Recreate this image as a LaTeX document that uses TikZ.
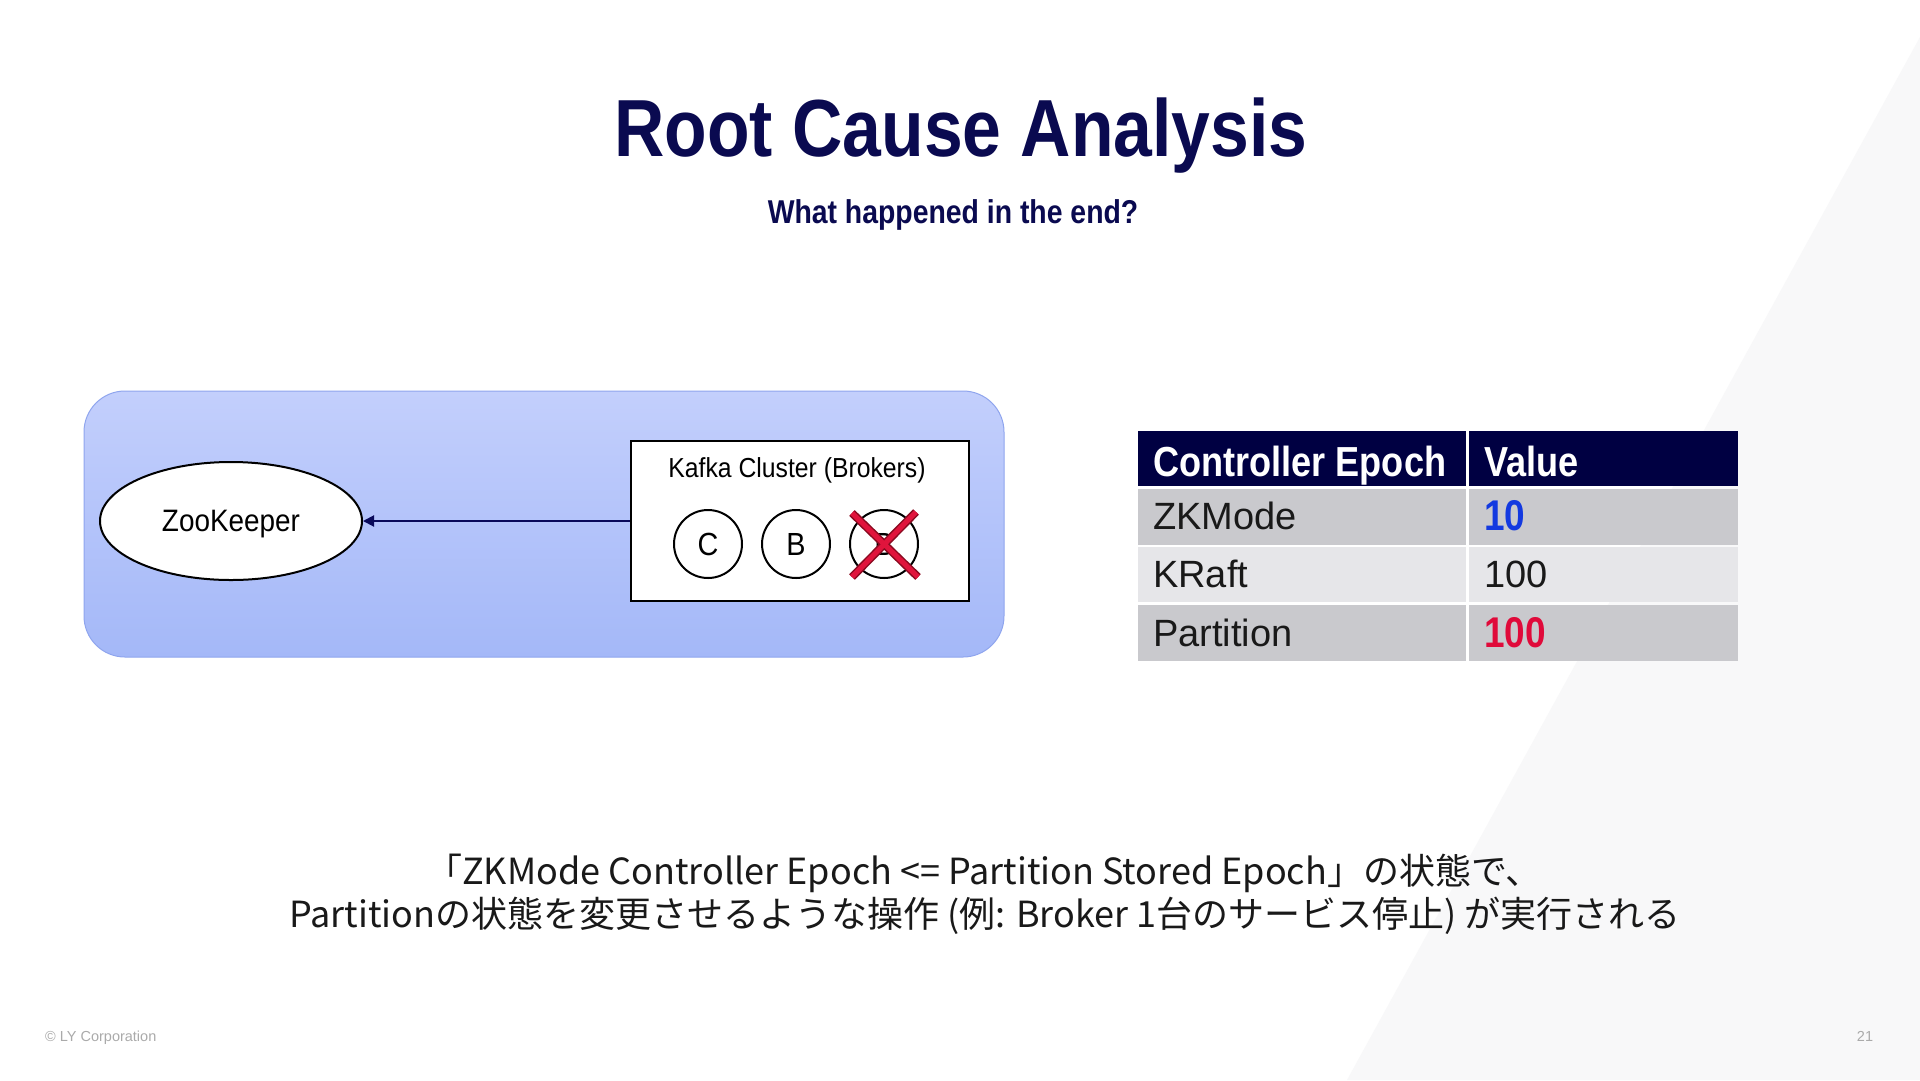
\documentclass[tikz,border=0pt]{standalone}
\usepackage{fontspec}
\setmainfont{Liberation Sans}
\newfontfamily\titlef[FakeStretch=0.86]{Liberation Sans}
\newfontfamily\narrowf[FakeStretch=0.9]{Liberation Sans}
\newfontfamily\cjkf{Noto Sans CJK JP}
\usetikzlibrary{shapes.geometric,arrows.meta}
\definecolor{navy}{HTML}{0A0A50}
\definecolor{hdr}{HTML}{000042}
\definecolor{rowdark}{HTML}{C9C9CD}
\definecolor{rowlight}{HTML}{E6E6E9}
\definecolor{valblue}{HTML}{1339E0}
\definecolor{valred}{HTML}{E00A3A}
\definecolor{paneltop}{HTML}{C3CFFC}
\definecolor{panelbot}{HTML}{A4B8F8}
\definecolor{panelline}{HTML}{8FA5EE}
\definecolor{bgtri}{HTML}{F8F8F9}
\definecolor{footgray}{HTML}{AAAAAA}
\definecolor{xred}{HTML}{E0143C}
\definecolor{xdark}{HTML}{8A0A20}
\definecolor{arrownavy}{HTML}{0A0A5A}
\tikzset{
  txt/.style={inner sep=0pt, anchor=base},
  txtw/.style={inner sep=0pt, anchor=base west},
  cell/.style={rectangle, inner sep=0pt, anchor=north west, minimum height=#1},
  hdrtext/.style={txtw, text=white, font=\titlef\bfseries\fontsize{42}{50}\selectfont},
  rowtext/.style={txtw, text=black!90, font=\fontsize{38}{44}\selectfont},
  boldval/.style={txtw, font=\titlef\bfseries\fontsize{43}{50}\selectfont},
  broker/.style={circle, draw=black, line width=2pt, fill=white, minimum size=68pt, inner sep=0pt, font=\narrowf\fontsize{32}{36}\selectfont},
}
\begin{document}
\begin{tikzpicture}[x=1pt,y=-1pt]
\useasboundingbox (0,0) rectangle (1920,1080);
\fill[white] (0,0) rectangle (1920,1080);
\fill[bgtri] (1347,1080) -- (1920,1080) -- (1920,37) -- cycle;

% titles
\node[txt, text=navy, font=\titlef\bfseries\fontsize{81}{90}\selectfont] (title) at (961,156) {Root Cause Analysis};
\node[txt, text=navy, font=\titlef\bfseries\fontsize{33}{38}\selectfont] (subtitle) at (953,223) {What happened in the end?};

% panel
\draw[rounded corners=41pt, top color=paneltop, bottom color=panelbot, draw=panelline, line width=1pt] (84,391) rectangle (1004,657);

\node[ellipse, draw=black, line width=2pt, fill=white, minimum width=262pt, minimum height=118pt, inner sep=0pt] (zk) at (231,521) {};
\node[txt, font=\narrowf\fontsize{31}{36}\selectfont] (zklabel) at (231,531) {ZooKeeper};

\node[rectangle, draw=black, line width=2.5pt, fill=white, minimum width=338pt, minimum height=160pt, inner sep=0pt] (kafka) at (800,521) {};
\node[txt, font=\narrowf\fontsize{27.5}{32}\selectfont] (kafkalabel) at (797,477) {Kafka Cluster (Brokers)};

\node[broker] (bc) at (708,544) {C};
\node[broker] (bb) at (796,544) {B};
\node[broker] (bx) at (884,544) {B};

\coordinate (x1a) at (852,513);
\coordinate (x1b) at (918,577);
\coordinate (x2a) at (916,512);
\coordinate (x2b) at (852,577);
\draw[xdark, line width=8pt] (x1a) -- (x1b) (x2a) -- (x2b);
\draw[xred, line width=5pt] (x1a) -- (x1b) (x2a) -- (x2b);

\draw[arrownavy, line width=2pt, -{Triangle[length=11pt,width=11pt]}] (kafka.west) -- (zk.east);

% table
\node[cell=55pt, minimum width=328pt, fill=hdr] (h1) at (1138,431) {};
\node[cell=55pt, minimum width=269pt, fill=hdr] (h2) at (1469,431) {};
\node[cell=56pt, minimum width=328pt, fill=rowdark] (r1a) at (1138,489) {};
\node[cell=56pt, minimum width=269pt, fill=rowdark] (r1b) at (1469,489) {};
\node[cell=55pt, minimum width=328pt, fill=rowlight] (r2a) at (1138,547) {};
\node[cell=55pt, minimum width=269pt, fill=rowlight] (r2b) at (1469,547) {};
\node[cell=56pt, minimum width=328pt, fill=rowdark] (r3a) at (1138,605) {};
\node[cell=56pt, minimum width=269pt, fill=rowdark] (r3b) at (1469,605) {};

\node[hdrtext] (t11) at (1153,476) {Controller Epoch};
\node[hdrtext] (t12) at (1484,476) {Value};
\node[rowtext] (t21) at (1153,529) {ZKMode};
\node[boldval, text=valblue] (t22) at (1484,530) {10};
\node[rowtext] (t31) at (1153,587) {KRaft};
\node[rowtext] (t32) at (1484,587) {100};
\node[rowtext] (t41) at (1153,646) {Partition};
\node[boldval, text=valred] (t42) at (1484,647) {100};

% bottom text
\node[txt, text=black!90, font=\cjkf\fontsize{36}{42}\selectfont] (line1) at (984,884) {「ZKMode Controller Epoch <= Partition Stored Epoch」の状態で、};
\node[txt, text=black!90, font=\cjkf\fontsize{36}{42}\selectfont] (line2) at (985,927) {Partitionの状態を変更させるような操作 (例: Broker 1台のサービス停止) が実行される};

% footer
\node[txtw, text=footgray, font=\fontsize{14.5}{16}\selectfont] (copy) at (45,1041) {© LY Corporation};
\node[txt, text=footgray, font=\fontsize{14.5}{16}\selectfont] (page) at (1865,1041) {21};
\end{tikzpicture}
\end{document}
